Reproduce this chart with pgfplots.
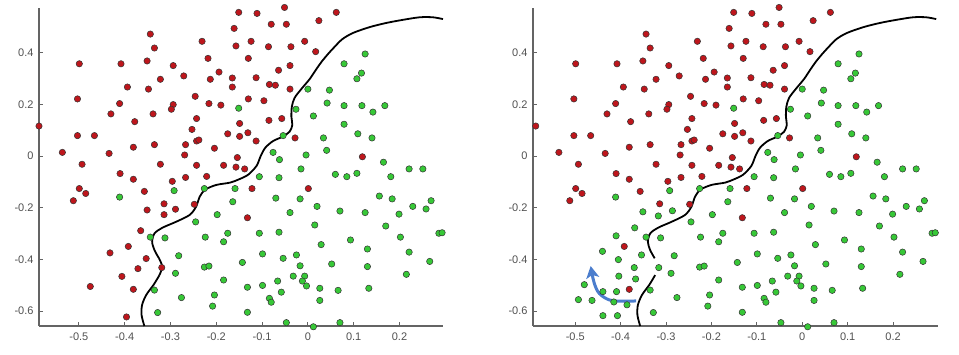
\documentclass[border=0pt]{standalone}
\usepackage{pgfplots}
\pgfplotsset{compat=1.18}
\usepackage{pgfplotstable}
\usetikzlibrary{arrows.meta}
\usepackage{fontspec}
\setmainfont{Liberation Sans}
\definecolor{redfill}{RGB}{190,22,28}
\definecolor{greenfill}{RGB}{55,200,55}
\definecolor{axgray}{RGB}{100,100,100}
\definecolor{txtgray}{RGB}{80,80,80}
\definecolor{arrowblue}{RGB}{75,125,205}

\pgfplotstableread{
x y
-0.051 0.575
-0.151 0.556
-0.111 0.552
0.062 0.556
-0.161 0.494
-0.080 0.510
-0.047 0.510
0.024 0.524
-0.344 0.472
-0.231 0.444
-0.124 0.444
-0.007 0.444
-0.335 0.418
-0.157 0.426
-0.086 0.423
-0.037 0.423
0.017 0.404
-0.499 0.357
-0.408 0.357
-0.351 0.368
-0.294 0.350
-0.218 0.378
-0.130 0.378
-0.039 0.350
-0.064 0.332
-0.194 0.325
-0.271 0.310
-0.322 0.297
-0.213 0.297
-0.165 0.302
-0.113 0.303
-0.394 0.267
-0.348 0.259
-0.165 0.267
-0.084 0.277
-0.071 0.274
-0.039 0.259
-0.503 0.221
-0.411 0.203
-0.246 0.231
-0.216 0.203
-0.190 0.197
-0.130 0.221
-0.096 0.214
-0.294 0.199
-0.298 0.181
-0.430 0.163
-0.338 0.163
-0.243 0.145
-0.149 0.126
-0.085 0.138
-0.057 0.145
-0.378 0.133
-0.587 0.116
-0.253 0.103
-0.503 0.079
-0.466 0.079
-0.175 0.086
-0.149 0.076
-0.131 0.090
-0.113 0.058
-0.028 0.070
-0.243 0.058
-0.238 0.062
-0.267 0.044
-0.335 0.044
-0.381 0.034
-0.204 0.030
-0.536 0.014
-0.434 0.010
-0.269 0.004
-0.154 -0.006
0.119 -0.003
-0.493 -0.032
-0.322 -0.032
-0.243 -0.036
-0.184 -0.036
-0.157 -0.043
-0.138 -0.050
-0.410 -0.068
-0.381 -0.090
-0.267 -0.083
-0.221 -0.079
-0.296 -0.098
-0.499 -0.126
-0.485 -0.145
-0.512 -0.173
-0.357 -0.137
-0.122 -0.126
0.001 -0.126
-0.314 -0.185
-0.248 -0.187
-0.132 -0.239
-0.392 -0.350
-0.381 -0.516
}\redCommon

\pgfplotstableread{
x y
-0.351 -0.209
-0.314 -0.227
-0.289 -0.206
-0.365 -0.289
-0.432 -0.375
-0.353 -0.397
-0.371 -0.436
-0.319 -0.432
-0.406 -0.466
-0.475 -0.505
-0.396 -0.623
}\redLeftOnly

\pgfplotstableread{
x y
0.125 0.395
0.079 0.357
0.117 0.321
0.107 0.299
0.000 0.259
0.047 0.255
0.042 0.205
0.079 0.195
0.118 0.195
0.168 0.195
0.142 0.170
-0.026 0.181
0.012 0.155
0.079 0.123
0.109 0.086
0.140 0.070
0.034 0.070
-0.054 0.079
0.041 0.022
-0.076 0.014
-0.004 0.004
-0.062 -0.014
0.165 -0.024
-0.015 -0.050
0.221 -0.050
0.251 -0.050
0.060 -0.071
0.085 -0.080
0.107 -0.067
0.181 -0.080
-0.106 -0.080
-0.063 -0.084
-0.151 0.185
-0.411 -0.159
-0.292 -0.134
-0.226 -0.126
-0.159 -0.126
-0.164 -0.177
-0.070 -0.163
-0.017 -0.166
0.020 -0.195
-0.039 -0.219
0.070 -0.213
0.125 -0.219
0.156 -0.155
0.184 -0.166
0.199 -0.225
0.229 -0.195
0.258 -0.205
0.269 -0.173
0.170 -0.271
0.015 -0.267
-0.198 -0.227
-0.245 -0.255
-0.344 -0.314
-0.312 -0.317
-0.224 -0.314
-0.175 -0.299
-0.184 -0.332
-0.106 -0.299
-0.063 -0.295
0.029 -0.343
0.093 -0.325
0.202 -0.314
0.286 -0.299
0.293 -0.297
-0.282 -0.386
-0.099 -0.379
-0.054 -0.396
-0.025 -0.383
-0.143 -0.412
-0.017 -0.425
0.052 -0.418
0.130 -0.360
0.130 -0.428
0.221 -0.372
0.266 -0.408
0.215 -0.458
-0.226 -0.430
-0.216 -0.426
-0.289 -0.454
-0.184 -0.480
-0.032 -0.465
-0.007 -0.465
-0.012 -0.484
-0.003 -0.503
-0.066 -0.484
-0.099 -0.501
-0.132 -0.508
-0.058 -0.527
0.026 -0.512
0.066 -0.520
0.133 -0.512
0.026 -0.559
-0.335 -0.519
-0.276 -0.548
-0.204 -0.538
-0.208 -0.581
-0.084 -0.551
-0.080 -0.566
-0.328 -0.606
-0.132 -0.605
-0.047 -0.645
0.012 -0.661
0.070 -0.645
}\greenCommon

\pgfplotstableread{
x y
-0.351 -0.216
-0.317 -0.232
-0.286 -0.212
-0.369 -0.278
-0.410 -0.309
-0.440 -0.369
-0.405 -0.401
-0.354 -0.383
-0.370 -0.432
-0.316 -0.432
-0.404 -0.465
-0.367 -0.476
-0.480 -0.498
-0.439 -0.525
-0.409 -0.525
-0.493 -0.556
-0.463 -0.559
-0.386 -0.576
-0.415 -0.565
-0.439 -0.618
-0.407 -0.618
}\greenRightOnly

\pgfplotstableread{
x y
0.295 0.530
0.273 0.537
0.244 0.537
0.207 0.527
0.171 0.515
0.135 0.499
0.098 0.476
0.075 0.452
0.058 0.422
0.044 0.395
0.030 0.365
0.018 0.335
0.004 0.298
-0.014 0.260
-0.029 0.225
-0.035 0.191
-0.036 0.152
-0.034 0.120
-0.040 0.094
-0.055 0.075
-0.076 0.058
-0.093 0.032
-0.103 0.000
-0.112 -0.038
-0.130 -0.072
-0.150 -0.090
-0.170 -0.103
-0.200 -0.112
-0.224 -0.130
-0.236 -0.157
-0.244 -0.196
-0.258 -0.228
-0.287 -0.254
-0.318 -0.278
-0.335 -0.300
-0.340 -0.332
-0.335 -0.364
-0.325 -0.396
}\curveTop

\pgfplotstableread{
x y
-0.325 -0.396
-0.318 -0.428
-0.324 -0.461
}\curveMid

\pgfplotstableread{
x y
-0.324 -0.461
-0.337 -0.499
-0.353 -0.538
-0.362 -0.577
-0.363 -0.616
-0.357 -0.658
}\curveBot

\pgfplotstableread{
x y
-0.366 -0.561
-0.400 -0.562
-0.425 -0.557
-0.447 -0.532
-0.458 -0.493
-0.463 -0.454
-0.466 -0.426
}\arrowpath

\pgfplotsset{
  panel/.style={
    scale only axis, height=318pt, anchor=south west,
    axis lines=left,
    axis line style={-, draw=axgray, line width=1.2pt},
    tick align=inside, major tick length=4pt,
    tick style={draw=axgray, line width=1pt},
    ymin=-0.658, ymax=0.573,
    xtick={-0.5,-0.4,-0.3,-0.2,-0.1,0,0.1,0.2},
    xticklabels={-0.5,-0.4,-0.3,-0.2,-0.1,0,0.1,0.2},
    ytick={-0.6,-0.4,-0.2,0,0.2,0.4},
    yticklabels={-0.6,-0.4,-0.2,0,0.2,0.4},
    ticklabel style={font=\fontsize{11}{13}\selectfont, text=txtgray},
    xticklabel style={yshift=-3pt},
    yticklabel style={xshift=-2pt},
    clip=false,
  },
  redpts/.style={only marks, mark=*, mark size=3.2pt,
    mark options={fill=redfill, draw=black!80, line width=0.5pt}},
  greenpts/.style={only marks, mark=*, mark size=3.2pt,
    mark options={fill=greenfill, draw=black!80, line width=0.5pt}},
  bound/.style={black, line width=1.8pt, smooth, tension=0.5},
}

\begin{document}
\begin{tikzpicture}
\useasboundingbox (0,0) rectangle (959pt,355pt);
\begin{axis}[panel, at={(39pt,29pt)}, width=404pt, xmin=-0.587, xmax=0.295]
\addplot[redpts] table {\redCommon};
\addplot[redpts] table {\redLeftOnly};
\addplot[greenpts] table {\greenCommon};
\addplot[bound] table {\curveTop};
\addplot[bound] table {\curveMid};
\addplot[bound] table {\curveBot};
\end{axis}
\begin{axis}[panel, at={(533pt,29pt)}, width=405pt, xmin=-0.593, xmax=0.299]
\addplot[redpts] table {\redCommon};
\addplot[greenpts] table {\greenCommon};
\addplot[greenpts] table {\greenRightOnly};
\addplot[bound] table {\curveTop};
\addplot[bound] table {\curveBot};
\addplot[arrowblue, line width=3pt, smooth, tension=0.6, -{Stealth[length=12pt, width=13pt, inset=3pt]}] table {\arrowpath};
\end{axis}
\end{tikzpicture}
\end{document}
